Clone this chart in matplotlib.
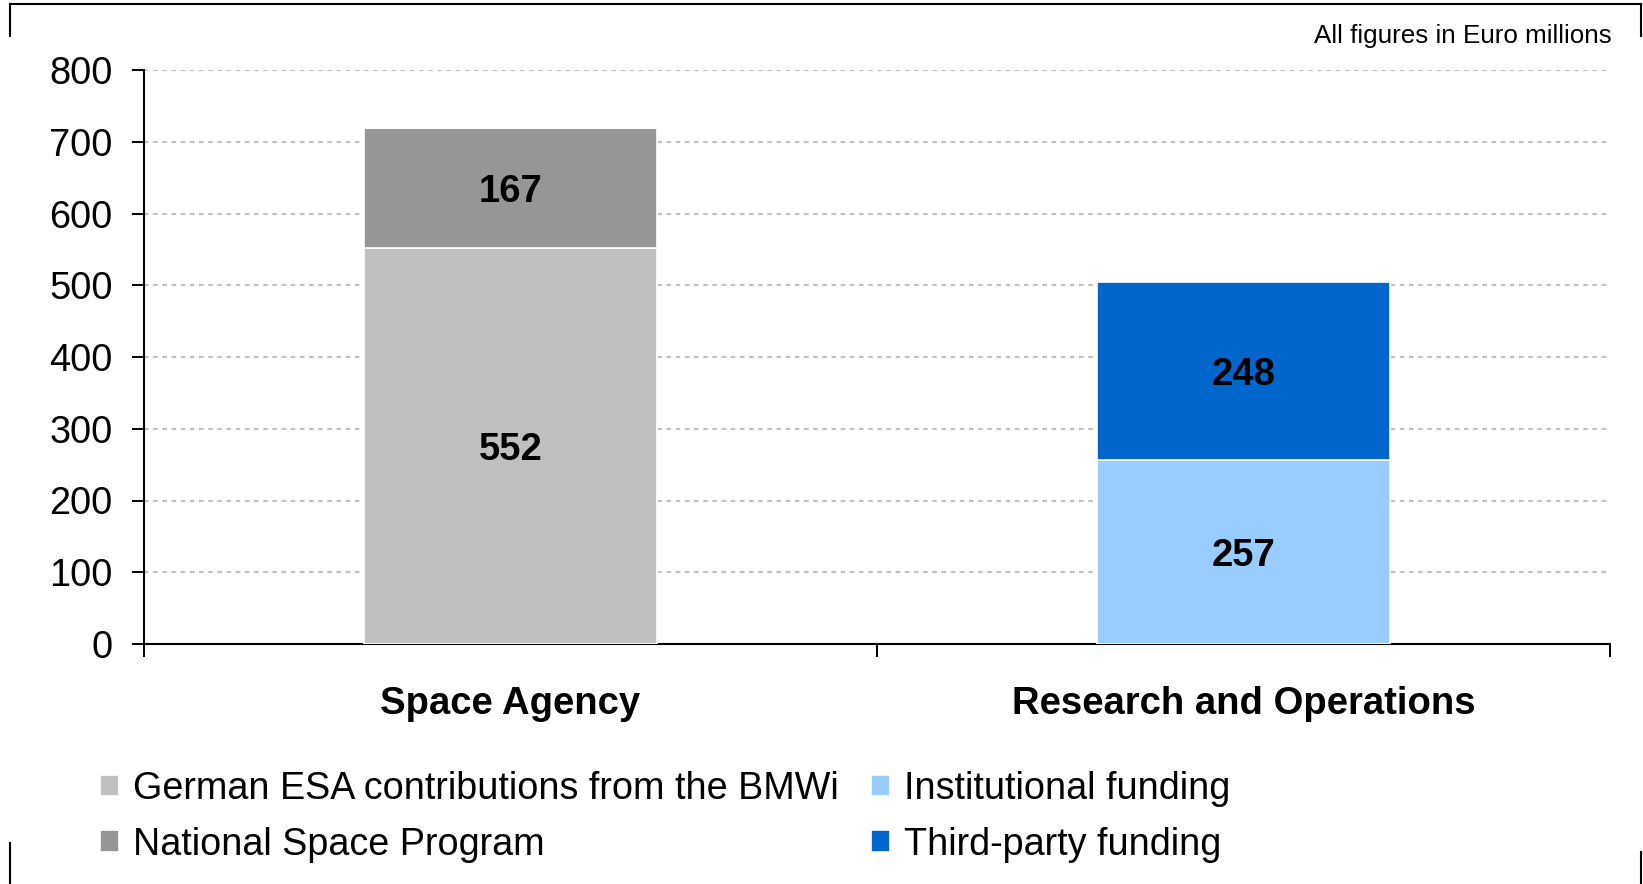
import matplotlib
matplotlib.use("Agg")
import matplotlib.pyplot as plt
from matplotlib.lines import Line2D
import numpy as np

plt.rcParams['font.family'] = ['Liberation Sans', 'DejaVu Sans']

categories = ["Space Agency", "Research and Operations"]
series_names = ["German ESA contributions from the BMWi", "National Space Program",
                "Institutional funding", "Third-party funding"]
esa = [552, 0]
national = [167, 0]
institutional = [0, 257]
third_party = [0, 248]
colors = ["#C0C0C0", "#969696", "#99CCFF", "#0066CC"]
yticks = [0, 100, 200, 300, 400, 500, 600, 700, 800]
note = "All figures in Euro millions"

W, H = 1643, 884
fig = plt.figure(figsize=(W / 100, H / 100), dpi=100)
ax = fig.add_axes([144 / W, 1 - 644 / H, 1466 / W, 574 / H])

x = np.arange(len(categories))
width = 0.4
series = [esa, national, institutional, third_party]
bottom = np.zeros(len(categories))
handles = []
for vals, col, name in zip(series, colors, series_names):
    vals = np.array(vals, dtype=float)
    bars = ax.bar(x, vals, width, bottom=bottom, color=col, edgecolor="white",
                  linewidth=1.2, label=name, zorder=3)
    handles.append(bars)
    for xi, v, b in zip(x, vals, bottom):
        if v > 0:
            ax.text(xi, b + v / 2, f"{int(v)}", ha="center", va="center_baseline",
                    fontsize=27.5, fontweight="bold", color="black", zorder=4)
    bottom += vals

ax.set_xlim(-0.5, 1.5)
ax.set_ylim(0, 800)
ax.set_yticks(yticks)
ax.set_yticklabels([str(t) for t in yticks])
ax.tick_params(axis="y", labelsize=27.4, length=8.6, width=1.4, pad=14, direction="out")

ax.set_xticks([-0.5, 0.5, 1.5])
ax.set_xticklabels([])
ax.tick_params(axis="x", which="major", length=9, width=1.4, direction="out")
ax.set_xticks(x, minor=True)
ax.set_xticklabels(categories, minor=True, fontsize=27.5, fontweight="bold")
ax.tick_params(axis="x", which="minor", length=0, pad=30)

for s in ["top", "right"]:
    ax.spines[s].set_visible(False)
for s in ["left", "bottom"]:
    ax.spines[s].set_linewidth(1.5)

for t in yticks[1:]:
    ax.axhline(t, color="#C0C0C0", linewidth=1.5, linestyle=(0, (2.2, 2.2)), zorder=1)

fig.legend(handles=handles, labels=series_names, ncol=2, loc="upper left",
           bbox_to_anchor=(100 / W, 1 - 771 / H), bbox_transform=fig.transFigure,
           frameon=False, fontsize=27.2, handlelength=0.5, handleheight=0.5,
           handletextpad=0.37, columnspacing=0.85, labelspacing=0.52,
           borderpad=0, borderaxespad=0)

fig.text(1612 / W, 1 - 36 / H, note, ha="right", va="center", fontsize=18.7)

def fl(xs, ys):
    fig.add_artist(Line2D([v / W for v in xs], [1 - v / H for v in ys],
                          transform=fig.transFigure, color="black", linewidth=1.5))

fl([10, 1641], [4, 4])
fl([10, 10], [4, 36])
fl([1641, 1641], [4, 36])
fl([10, 10], [843, 884])
fl([1641, 1641], [852, 884])

fig.savefig("out.png", dpi=100)
